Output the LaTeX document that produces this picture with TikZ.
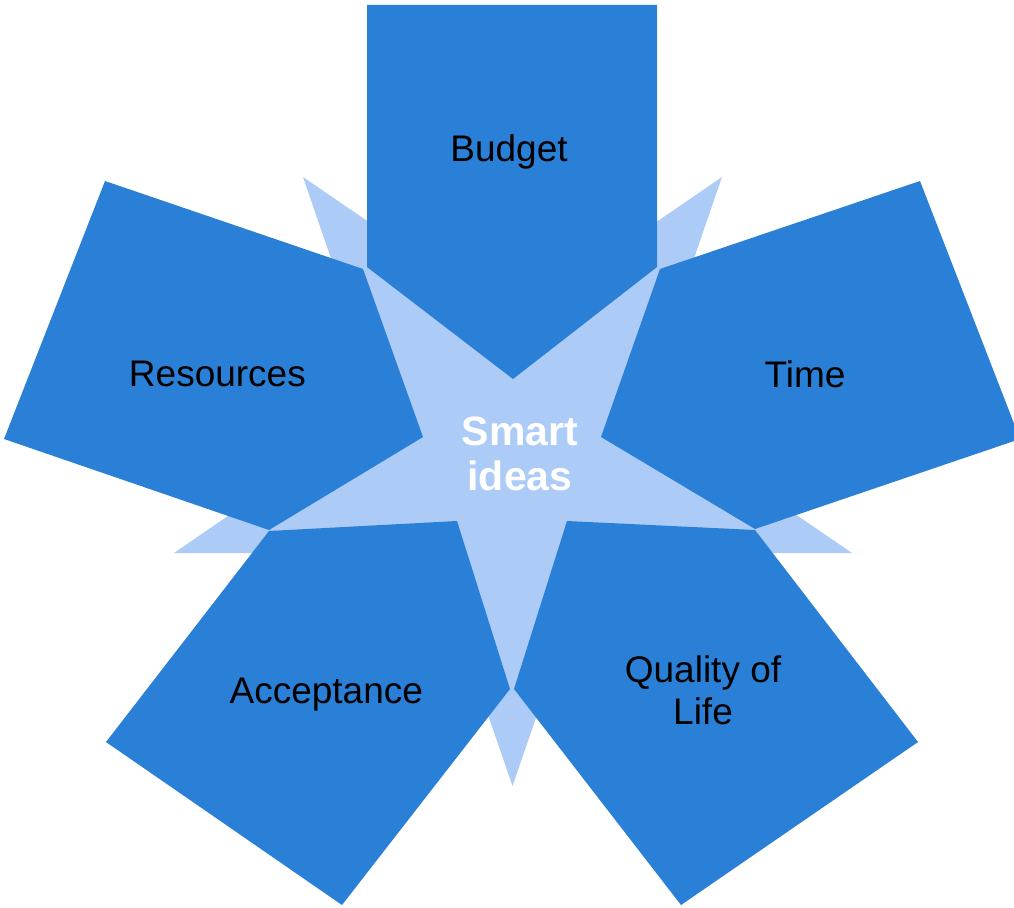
\documentclass[tikz,border=0pt]{standalone}
\usepackage{fontspec}
\setmainfont{Liberation Sans}
\definecolor{darkblue}{HTML}{2A80D6}
\definecolor{lightblue}{HTML}{ADCBF7}
\begin{document}
\begin{tikzpicture}[x=1pt,y=-1pt,
  petal/.style={fill=darkblue},
  starfill/.style={fill=lightblue},
  lbl/.style={text=black, font=\fontsize{37}{41.5}\selectfont, align=center, anchor=base, inner sep=0pt},
  centerlbl/.style={text=white, font=\fontsize{41}{45}\selectfont\bfseries, align=center, anchor=base, inner sep=0pt}]
\useasboundingbox (0,0) rectangle (1014,907);
\clip (0,0) rectangle (1014,907);
% star
\coordinate (sTL) at (303,177);
\coordinate (sTR) at (722,177);
\coordinate (sR) at (852,553);
\coordinate (sL) at (174,553);
\coordinate (sB) at (512.5,786);
\fill[starfill] (sTL) -- (sR) -- (sL) -- (sTR) -- (sB) -- cycle;
% petals
\fill[petal] (367,5) -- (657,5) -- (657,267) -- (513,379) -- (367,267) -- cycle;
\fill[petal] (105,181) -- (363,269) -- (423,437) -- (269,530) -- (4,439) -- cycle;
\fill[petal] (920,181) -- (1020,439) -- (755,529) -- (601,437) -- (660,269) -- cycle;
\fill[petal] (269,531) -- (457,521) -- (510,689) -- (342,905) -- (106,742) -- cycle;
\fill[petal] (567,521) -- (755,530) -- (918,742) -- (681,905) -- (514,689) -- cycle;
% labels (base anchor = baseline of last line)
\node[lbl] (budget) at (509,161.7) {Budget};
\node[lbl] (resources) at (217.4,386) {Resources};
\node[lbl] (time) at (805,387.3) {Time};
\node[lbl] (acceptance) at (326.3,703.3) {Acceptance};
\node[lbl] (quality) at (703,724) {Quality of\\Life};
\node[centerlbl] (smart) at (520,490.7) {Smart\\ideas};
\end{tikzpicture}
\end{document}
